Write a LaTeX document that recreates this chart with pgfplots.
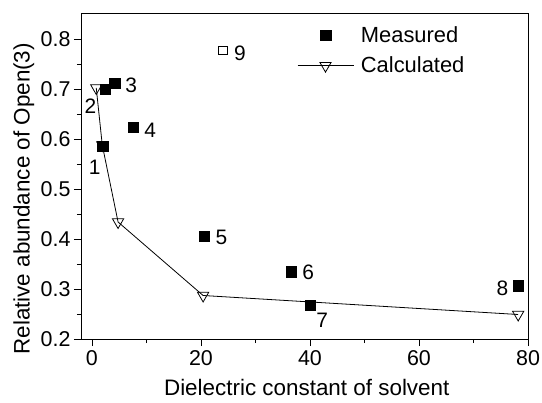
\documentclass[border=0pt]{standalone}
\usepackage{fontspec}
\setmainfont{Liberation Sans}
\usepackage{pgfplots}
\pgfplotsset{compat=1.18}

\begin{document}
\begin{tikzpicture}
\useasboundingbox[fill=white] (-81bp,-64bp) rectangle (461bp,339bp);
\begin{axis}[
  at={(0,0)}, anchor=south west,
  scale only axis,
  width=447bp, height=326bp,
  xmin=-2, xmax=80,
  ymin=0.2, ymax=0.852,
  xtick={0,20,40,60,80},
  minor xtick={10,30,50,70},
  ytick={0.2,0.3,0.4,0.5,0.6,0.7,0.8},
  minor ytick={0.25,0.35,0.45,0.55,0.65,0.75},
  xtick pos=bottom, ytick pos=left,
  tick align=outside,
  major tick length=7bp, minor tick length=4bp,
  tick style={black, line width=0.8pt},
  axis line style={line width=0.9pt},
  /pgf/number format/assume math mode=true,
  ticklabel style={font=\fontsize{21.5}{21.5}\selectfont},
  yticklabel style={/pgf/number format/.cd, fixed, fixed zerofill, precision=1},
  xticklabel style={yshift=-1bp},
  xlabel={Dielectric constant of solvent},
  ylabel={Relative abundance of Open(3)},
  label style={font=\fontsize{22.5}{22.5}\selectfont},
  xlabel style={at={(axis description cs:0.505,-0.150)}, anchor=center, inner sep=0pt},
  ylabel style={at={(axis description cs:-0.128,0.43)}, anchor=center},
  legend image code/.code={\draw[mark repeat=2,mark phase=2,#1] plot coordinates {(0bp,0bp) (28bp,0bp) (56bp,0bp)};},
  legend style={at={(0.483,0.965)}, anchor=north west, draw=none, fill=none,
    font=\fontsize{22}{22}\selectfont, row sep=9bp, inner sep=0pt},
  legend cell align=left,
]
\addplot[only marks, mark=square*, mark size=5.2bp, black] coordinates {
  (2.0,0.585) (2.4,0.699) (4.2,0.712) (7.6,0.623) (20.6,0.406)
  (36.6,0.335) (40.0,0.268) (78.2,0.307)
};
\addlegendentry{\hspace{5bp}Measured}
\addplot[black, line width=0.8pt, mark=triangle, mark size=6.5bp,
  mark options={rotate=180, fill=white, solid}] coordinates {
  (0.8,0.702) (1.9,0.588) (4.8,0.434) (20.4,0.287) (78.2,0.249)
};
\addlegendentry{\hspace{5bp}Calculated}
\addplot[only marks, mark=square, mark size=4.2bp, black, forget plot] coordinates {
  (24.0,0.777)
};
\begin{scope}[every node/.style={font=\fontsize{21}{21}\selectfont, inner sep=0pt, anchor=center}]
\node at (axis cs:0.49,0.544) {1};
\node at (axis cs:-0.29,0.665) {2};
\node at (axis cs:7.21,0.708) {3};
\node at (axis cs:10.68,0.618) {4};
\node at (axis cs:23.78,0.403) {5};
\node at (axis cs:39.7,0.333) {6};
\node at (axis cs:42.26,0.237) {7};
\node at (axis cs:75.32,0.301) {8};
\node at (axis cs:27.15,0.771) {9};
\end{scope}
\end{axis}
\end{tikzpicture}
\end{document}
